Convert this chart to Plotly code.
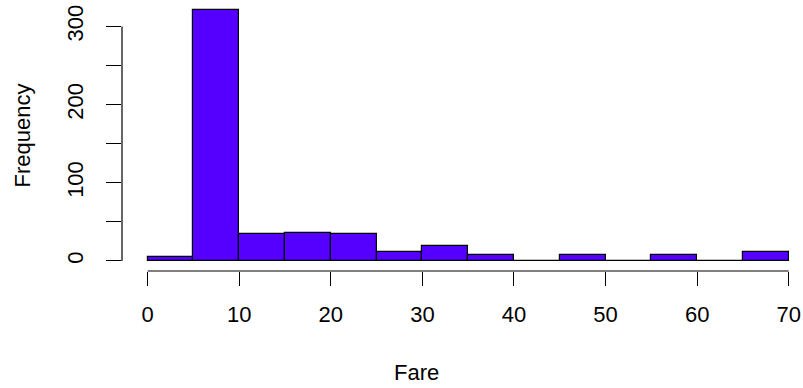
import plotly.graph_objects as go

# Histogram of fares: bin edges and counts per bin
bin_edges = [0, 5, 10, 15, 20, 25, 30, 35, 40, 45, 50, 55, 60, 65, 70]
counts = [5, 321, 34, 36, 34, 11, 19, 7, 0, 8, 0, 8, 0, 11]

x_ticks = [0, 10, 20, 30, 40, 50, 60, 70]
y_ticks = [0, 50, 100, 150, 200, 250, 300]
y_ticktext = ["0", "", "100", "", "200", "", "300"]

x_title = "Fare"
y_title = "Frequency"

centers = [(a + b) / 2 for a, b in zip(bin_edges[:-1], bin_edges[1:])]
widths = [b - a for a, b in zip(bin_edges[:-1], bin_edges[1:])]

FONT = "Liberation Sans, Arial, sans-serif"
FS = 22

fig = go.Figure()
fig.add_trace(go.Bar(
    x=centers, y=counts, width=widths,
    marker=dict(color="#5500FF", line=dict(color="black", width=1.2)),
    hoverinfo="x+y",
))

ymax = max(counts)
pad_y = 0.04 * ymax
pad_x = 0.04 * (bin_edges[-1] - bin_edges[0])

fig.update_layout(
    width=803, height=388,
    margin=dict(l=122, r=0, t=0, b=117),
    plot_bgcolor="white", paper_bgcolor="white",
    showlegend=False,
    font=dict(family=FONT, size=FS, color="black"),
    bargap=0,
    xaxis=dict(
        range=[bin_edges[0] - pad_x, 71.56],
        tickvals=x_ticks, ticktext=[str(v) for v in x_ticks],
        ticks="outside", ticklen=14, tickwidth=1.2, tickcolor="black",
        showline=False, showgrid=False, zeroline=False,
        ticklabelstandoff=10,
        tickfont=dict(size=FS),
    ),
    yaxis=dict(
        range=[-pad_y, ymax + pad_y],
        tickvals=y_ticks, ticktext=y_ticktext,
        ticks="outside", ticklen=15, tickwidth=1.2, tickcolor="black",
        tickangle=-90,
        showline=False, showgrid=False, zeroline=False,
        ticklabelstandoff=14,
        tickfont=dict(size=FS),
    ),
    shapes=[
        # x axis line spanning the first to last tick
        dict(type="line", xref="x", yref="paper",
             x0=x_ticks[0], x1=x_ticks[-1], y0=0, y1=0,
             line=dict(color="black", width=1.2)),
        # y axis line spanning the first to last tick
        dict(type="line", xref="paper", yref="y",
             x0=0, x1=0, y0=y_ticks[0], y1=y_ticks[-1],
             line=dict(color="black", width=1.2)),
    ],
    annotations=[
        dict(text=x_title, xref="paper", yref="paper",
             x=0.433, y=-101 / 271, xanchor="center", yanchor="middle",
             showarrow=False, font=dict(size=FS)),
        dict(text=y_title, xref="paper", yref="paper",
             x=-100 / 681, y=0.5, xanchor="center", yanchor="middle",
             textangle=-90, showarrow=False, font=dict(size=FS)),
    ],
)

fig.write_html("out.html")
